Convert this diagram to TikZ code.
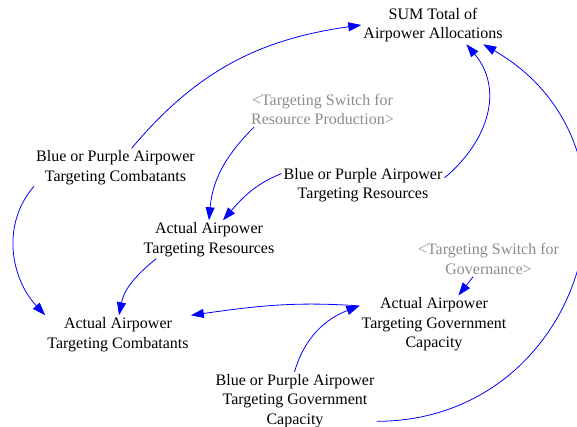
\documentclass[tikz,border=0pt]{standalone}
\usepackage{fontspec}
\setmainfont{Liberation Serif}
\usetikzlibrary{arrows.meta}
\definecolor{vblue}{RGB}{0,0,255}
\definecolor{vgray}{RGB}{140,140,140}
\begin{document}
\begin{tikzpicture}[x=1pt,y=1pt,
  lbl/.style={align=center, inner sep=2pt, font=\fontsize{16}{19.5}\selectfont, text=black},
  shad/.style={lbl, text=vgray},
  arr/.style={draw=vblue, line width=0.8pt, -{Triangle[length=13pt,width=9pt]}}
]
\useasboundingbox (0,0) rectangle (577,427);
\clip (0,0) rectangle (577,427);

\node[lbl] (sum) at (433,402) {SUM Total of\\Airpower Allocations};
\node[shad] (swr) at (322.5,317.5) {<Targeting Switch for\\Resource Production>};
\node[lbl] (bpc) at (115.5,259.5) {Blue or Purple Airpower\\Targeting Combatants};
\node[lbl] (bpr) at (363,242) {Blue or Purple Airpower\\Targeting Resources};
\node[lbl] (aar) at (209,187.5) {Actual Airpower\\Targeting Resources};
\node[shad] (swg) at (488.5,168) {<Targeting Switch for\\Governance>};
\node[lbl] (aag) at (434,102.5) {Actual Airpower\\Targeting Government\\Capacity};
\node[lbl] (aac) at (118,92.5) {Actual Airpower\\Targeting Combatants};
\node[lbl] (bpg) at (295,26) {Blue or Purple Airpower\\Targeting Government\\Capacity};

\draw[arr] (bpc.50) to[out=50,in=188] (sum.west);
\draw[arr] ([xshift=5pt]swr.south west) to[out=225,in=85] (aar.north);
\draw[arr] (bpr.172) to[out=202,in=49] (aar.54);
\draw[arr] (bpr.5) to[out=40,in=-50,looseness=1.1] (sum.-30);
\draw[arr] (bpg.-14) to[out=0,in=-30,looseness=1.36] (sum.-21);
\draw[arr] (bpc.193) to[out=229,in=133] (aac.north west);
\draw[arr] (aar.200) to[out=219,in=79] (aac.87);
\draw[arr] (aag.166) to[out=176,in=8] (aac.north east);
\draw[arr] (bpg.91) to[out=74,in=201] (aag.166);
\draw[arr] (swg.229) -- (aag.50);
\end{tikzpicture}
\end{document}
